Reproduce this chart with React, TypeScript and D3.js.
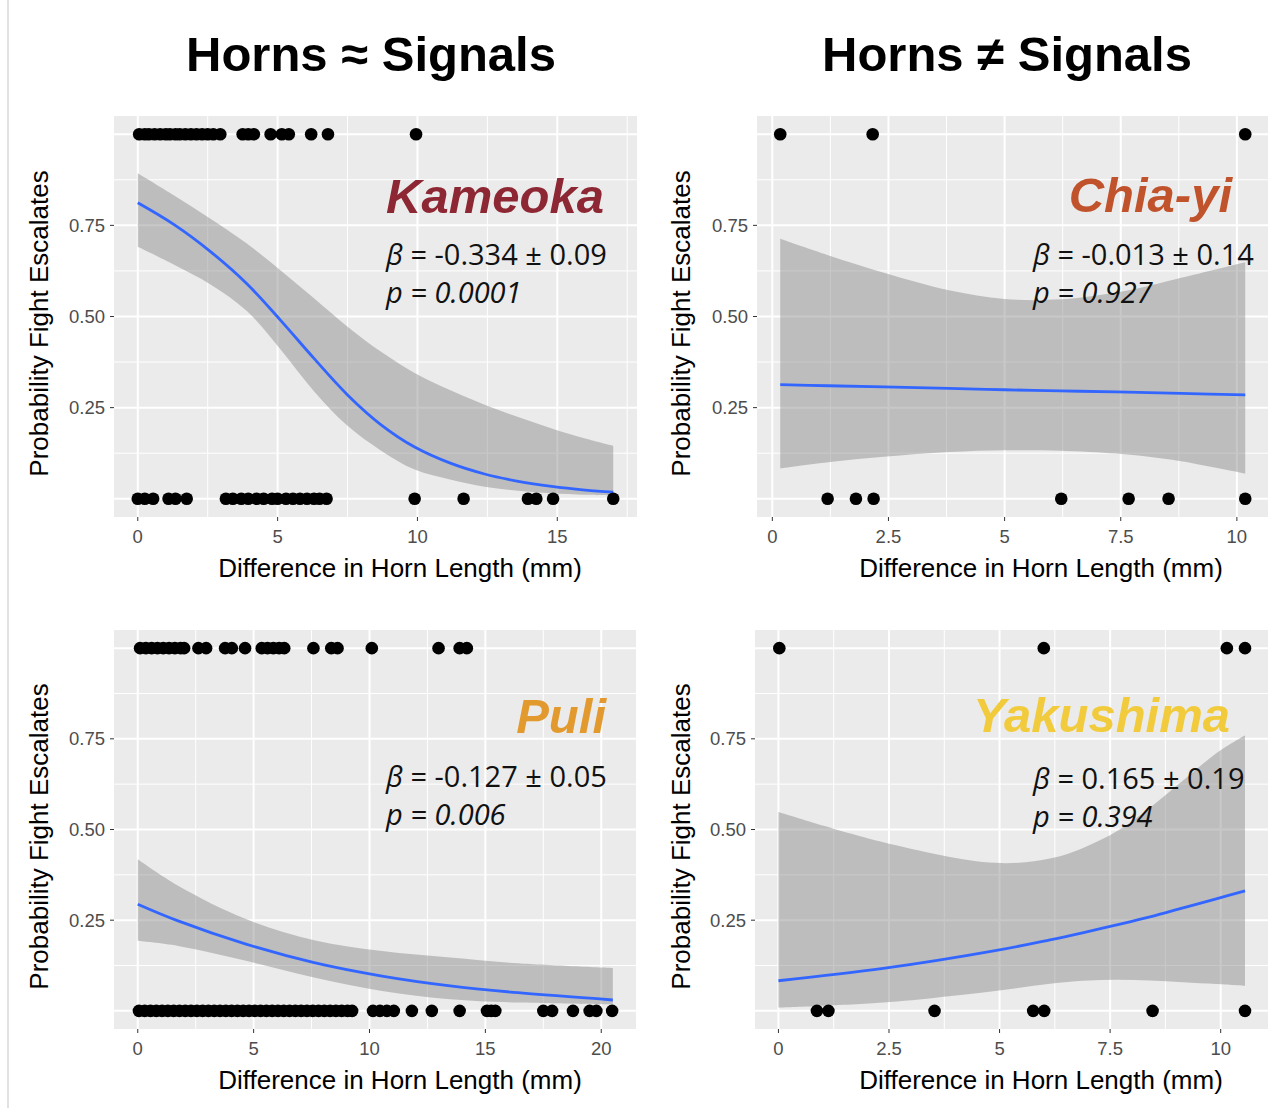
import React, { useEffect, useRef } from 'react';
import * as d3 from 'd3';

const W = 1268;
const H = 1108;

// Kameoka (top left)
const kameokaYes = [0.05, 0.25, 0.4, 0.6, 0.8, 1.0, 1.15, 1.35, 1.5, 1.7, 1.9, 2.1, 2.3, 2.5, 2.7, 2.95,
  3.75, 3.95, 4.15, 4.75, 5.15, 5.4, 6.2, 6.8, 9.95];
const kameokaNo = [0, 0.25, 0.55, 1.1, 1.35, 1.75, 3.15, 3.4, 3.7, 3.95, 4.25, 4.5, 4.8, 5.0, 5.3, 5.55,
  5.8, 6.05, 6.3, 6.5, 6.75, 9.9, 11.65, 13.95, 14.25, 14.85, 17.0];
const kameokaFitX = [0, 1.3, 2.6, 3.9, 5.1, 6.3, 7.5, 8.7, 9.9, 11.2, 12.4, 13.6, 14.8, 16, 17];
const kameokaFit = [0.812, 0.752, 0.678, 0.59, 0.49, 0.385, 0.285, 0.203, 0.142, 0.097, 0.068, 0.048, 0.034, 0.024, 0.018];
const kameokaHi = [0.893, 0.832, 0.768, 0.70, 0.627, 0.55, 0.472, 0.403, 0.345, 0.297, 0.258, 0.224, 0.193, 0.165, 0.145];
const kameokaLo = [0.691, 0.642, 0.588, 0.515, 0.41, 0.295, 0.2, 0.132, 0.08, 0.052, 0.033, 0.022, 0.015, 0.011, 0.009];

// Chia-yi (top right)
const chiayiYes = [0.17, 2.16, 10.18];
const chiayiNo = [1.19, 1.8, 2.18, 6.22, 7.67, 8.53, 10.18];
const chiayiFitX = [0.17, 1.2, 2.4, 3.8, 5.0, 6.2, 7.4, 8.1, 8.8, 10.18];
const chiayiFit = [0.313, 0.31, 0.307, 0.303, 0.299, 0.296, 0.293, 0.291, 0.289, 0.285];
const chiayiHi = [0.713, 0.668, 0.62, 0.572, 0.548, 0.547, 0.566, 0.584, 0.606, 0.649];
const chiayiLo = [0.083, 0.10, 0.115, 0.128, 0.133, 0.132, 0.124, 0.115, 0.103, 0.069];

// Puli (bottom left)
const puliYes = [0.1, 0.35, 0.6, 0.85, 1.1, 1.35, 1.6, 1.85, 2.0, 2.62, 2.95, 3.77, 4.06, 4.63,
  5.35, 5.6, 5.85, 6.1, 6.32, 7.58, 8.35, 8.62, 10.1, 12.98, 13.89, 14.2];
const puliNo = [0.05, 0.3, 0.55, 0.8, 1.05, 1.3, 1.55, 1.8, 2.05, 2.3, 2.55, 2.8, 3.05, 3.3, 3.55, 3.8,
  4.05, 4.3, 4.55, 4.8, 5.05, 5.3, 5.55, 5.8, 6.05, 6.3, 6.55, 6.8, 7.05, 7.3, 7.55, 7.8, 8.05, 8.3,
  8.55, 8.8, 9.05, 9.25, 10.15, 10.45, 10.75, 11.05, 11.83, 12.69, 13.89, 15.07, 15.25, 15.43,
  17.5, 17.88, 18.78, 19.5, 19.79, 20.47];
const puliFitX = [0, 1.74, 4.67, 7.61, 10.54, 13.48, 16.41, 20.5];
const puliFit = [0.294, 0.248, 0.184, 0.133, 0.096, 0.069, 0.05, 0.03];
const puliHi = [0.418, 0.345, 0.253, 0.195, 0.165, 0.147, 0.131, 0.118];
const puliLo = [0.193, 0.179, 0.138, 0.092, 0.055, 0.032, 0.023, 0.018];

// Yakushima (bottom right)
const yakuYes = [0.02, 6.0, 10.14, 10.55];
const yakuNo = [0.87, 1.13, 3.53, 5.76, 6.01, 8.46, 10.55];
const yakuFitX = [0, 2.37, 4.9, 6.14, 6.9, 7.65, 8.4, 9.15, 9.9, 10.55];
const yakuFit = [0.083, 0.117, 0.166, 0.196, 0.216, 0.237, 0.259, 0.284, 0.309, 0.331];
const yakuHi = [0.548, 0.465, 0.408, 0.42, 0.45, 0.495, 0.56, 0.635, 0.71, 0.76];
const yakuLo = [0.009, 0.023, 0.055, 0.075, 0.083, 0.086, 0.084, 0.079, 0.074, 0.069];

const yTicks = [0.25, 0.5, 0.75];
const yMajor = [0, 0.25, 0.5, 0.75, 1];
const yMinor = [0.125, 0.375, 0.625, 0.875];

const titles = ['Horns \u2248 Signals', 'Horns \u2260 Signals'];
const xTitle = 'Difference in Horn Length (mm)';
const yTitle = 'Probability Fight Escalates';

const panels = [
  { name: 'Kameoka', color: '#8c2733', beta: ' = -0.334 \u00b1 0.09', p: ' = 0.0001',
    yes: kameokaYes, no: kameokaNo, fx: kameokaFitX, fit: kameokaFit, lo: kameokaLo, hi: kameokaHi,
    left: 114, right: 637, top: 116, bottom: 517, xDomain: [-0.85, 17.85],
    xTicks: [0, 5, 10, 15], xMinor: [2.5, 7.5, 12.5, 17.5],
    nameX: 604, nameY: 213, statX: 386, statY: 265, xTitleX: 400, yTitleX: 48 },
  { name: 'Chia-yi', color: '#c0532b', beta: ' = -0.013 \u00b1 0.14', p: ' = 0.927',
    yes: chiayiYes, no: chiayiNo, fx: chiayiFitX, fit: chiayiFit, lo: chiayiLo, hi: chiayiHi,
    left: 757, right: 1268, top: 116, bottom: 517, xDomain: [-0.33, 10.67],
    xTicks: [0, 2.5, 5, 7.5, 10], xMinor: [1.25, 3.75, 6.25, 8.75],
    nameX: 1232, nameY: 212, statX: 1033, statY: 265, xTitleX: 1041, yTitleX: 690 },
  { name: 'Puli', color: '#e29a2f', beta: ' = -0.127 \u00b1 0.05', p: ' = 0.006',
    yes: puliYes, no: puliNo, fx: puliFitX, fit: puliFit, lo: puliLo, hi: puliHi,
    left: 114, right: 636, top: 630, bottom: 1029, xDomain: [-1.025, 21.5],
    xTicks: [0, 5, 10, 15, 20], xMinor: [2.5, 7.5, 12.5, 17.5],
    nameX: 606, nameY: 733, statX: 386, statY: 787, xTitleX: 400, yTitleX: 48 },
  { name: 'Yakushima', color: '#f1cb3c', beta: ' = 0.165 \u00b1 0.19', p: ' = 0.394',
    yes: yakuYes, no: yakuNo, fx: yakuFitX, fit: yakuFit, lo: yakuLo, hi: yakuHi,
    left: 755, right: 1268, top: 630, bottom: 1029, xDomain: [-0.53, 11.07],
    xTicks: [0, 2.5, 5, 7.5, 10], xMinor: [1.25, 3.75, 6.25, 8.75],
    nameX: 1230, nameY: 732, statX: 1033, statY: 789, xTitleX: 1041, yTitleX: 690 },
];

export default function App() {
  const ref = useRef<SVGSVGElement>(null);

  useEffect(() => {
    const svg = d3.select(ref.current);
    svg.selectAll('*').remove();

    svg.append('rect').attr('width', W).attr('height', H).attr('fill', '#fff');
    svg.append('line').attr('x1', 8).attr('x2', 8).attr('y1', 0).attr('y2', H)
      .attr('stroke', '#d9d9d9').attr('stroke-width', 1.5);

    svg.selectAll('.title').data(titles).enter().append('text')
      .attr('x', (d, i) => (i === 0 ? 371 : 1007))
      .attr('y', 71)
      .attr('text-anchor', 'middle')
      .style('font-family', '"Liberation Sans", Arial, sans-serif')
      .style('font-weight', 'bold')
      .style('font-size', '49px')
      .text((d) => d);

    panels.forEach((pn) => {
      const x = d3.scaleLinear().domain(pn.xDomain).range([pn.left, pn.right]);
      const y = d3.scaleLinear().domain([-0.05, 1.05]).range([pn.bottom, pn.top]);
      const g = svg.append('g');

      g.append('rect').attr('x', pn.left).attr('y', pn.top)
        .attr('width', pn.right - pn.left).attr('height', pn.bottom - pn.top)
        .attr('fill', '#ebebeb');

      // grid
      g.selectAll('.ymin').data(yMinor).enter().append('line')
        .attr('x1', pn.left).attr('x2', pn.right).attr('y1', (d) => y(d)).attr('y2', (d) => y(d))
        .attr('stroke', '#fff').attr('stroke-width', 1);
      g.selectAll('.xmin').data(pn.xMinor.filter((v) => x(v) < pn.right)).enter().append('line')
        .attr('y1', pn.top).attr('y2', pn.bottom).attr('x1', (d) => x(d)).attr('x2', (d) => x(d))
        .attr('stroke', '#fff').attr('stroke-width', 1);
      g.selectAll('.ymaj').data(yMajor).enter().append('line')
        .attr('x1', pn.left).attr('x2', pn.right).attr('y1', (d) => y(d)).attr('y2', (d) => y(d))
        .attr('stroke', '#fff').attr('stroke-width', 2);
      g.selectAll('.xmaj').data(pn.xTicks).enter().append('line')
        .attr('y1', pn.top).attr('y2', pn.bottom).attr('x1', (d) => x(d)).attr('x2', (d) => x(d))
        .attr('stroke', '#fff').attr('stroke-width', 2);

      // confidence band and fit
      const band = pn.fx.map((v, i) => ({ x: v, lo: pn.lo[i], hi: pn.hi[i], f: pn.fit[i] }));
      const area = d3.area<any>().x((d) => x(d.x)).y0((d) => y(d.lo)).y1((d) => y(d.hi))
        .curve(d3.curveCatmullRom.alpha(0.5));
      const line = d3.line<any>().x((d) => x(d.x)).y((d) => y(d.f)).curve(d3.curveCatmullRom.alpha(0.5));
      g.append('path').attr('d', area(band)).attr('fill', '#8a8a8a').attr('fill-opacity', 0.47);
      g.append('path').attr('d', line(band)).attr('fill', 'none')
        .attr('stroke', '#3366ff').attr('stroke-width', 2.8);

      // points
      const pts = pn.yes.map((v) => ({ x: v, y: 1 })).concat(pn.no.map((v) => ({ x: v, y: 0 })));
      g.selectAll('.pt').data(pts).enter().append('circle')
        .attr('cx', (d) => x(d.x)).attr('cy', (d) => y(d.y)).attr('r', 6.3).attr('fill', '#000');

      // axes
      const tickFont = '"Liberation Sans", Arial, sans-serif';
      g.selectAll('.xt').data(pn.xTicks).enter().append('line')
        .attr('x1', (d) => x(d)).attr('x2', (d) => x(d)).attr('y1', pn.bottom).attr('y2', pn.bottom + 4)
        .attr('stroke', '#333').attr('stroke-width', 1);
      g.selectAll('.xl').data(pn.xTicks).enter().append('text')
        .attr('x', (d) => x(d)).attr('y', pn.bottom + 26).attr('text-anchor', 'middle')
        .style('font-family', tickFont).style('font-size', '18.5px').attr('fill', '#4d4d4d')
        .text((d) => String(d));
      g.selectAll('.yt').data(yTicks).enter().append('line')
        .attr('x1', pn.left - 4).attr('x2', pn.left).attr('y1', (d) => y(d)).attr('y2', (d) => y(d))
        .attr('stroke', '#333').attr('stroke-width', 1);
      g.selectAll('.yl').data(yTicks).enter().append('text')
        .attr('x', pn.left - 9).attr('y', (d) => y(d)).attr('dy', '0.35em').attr('text-anchor', 'end')
        .style('font-family', tickFont).style('font-size', '18.5px').attr('fill', '#4d4d4d')
        .text((d) => d3.format('.2f')(d));

      g.append('text').attr('x', pn.xTitleX).attr('y', pn.bottom + 60).attr('text-anchor', 'middle')
        .style('font-family', tickFont).style('font-size', '26px').text(xTitle);
      const cy = (pn.top + pn.bottom) / 2 + 7;
      g.append('text').attr('x', pn.yTitleX).attr('y', cy).attr('text-anchor', 'middle')
        .attr('transform', `rotate(-90, ${pn.yTitleX}, ${cy})`)
        .style('font-family', tickFont).style('font-size', '26px').text(yTitle);

      // annotations
      g.append('text').attr('x', pn.nameX).attr('y', pn.nameY).attr('text-anchor', 'end')
        .style('font-family', '"Liberation Sans", Arial, sans-serif')
        .style('font-weight', 'bold').style('font-style', 'italic').style('font-size', '49px')
        .attr('fill', pn.color).text(pn.name);

      const statFont = '"Open Sans", "Noto Sans", sans-serif';
      const b = g.append('text').attr('x', pn.statX).attr('y', pn.statY)
        .style('font-family', statFont).style('font-size', '29px').attr('fill', '#111');
      b.append('tspan').style('font-style', 'italic').text('\u03b2');
      b.append('tspan').text(pn.beta);
      const p = g.append('text').attr('x', pn.statX).attr('y', pn.statY + 38)
        .style('font-family', statFont).style('font-size', '29px').style('font-style', 'italic')
        .attr('fill', '#111');
      p.append('tspan').text('p');
      p.append('tspan').text(pn.p);
    });
  }, []);

  return (
    <svg ref={ref} width={W} height={H} style={{ position: 'absolute', left: 0, top: 0 }} />
  );
}
